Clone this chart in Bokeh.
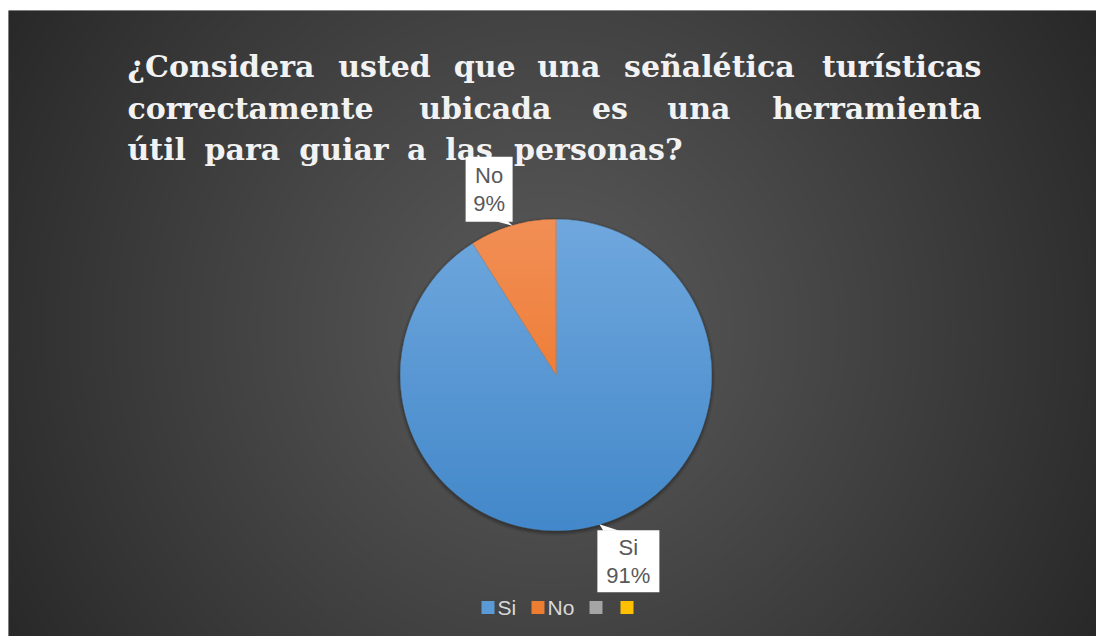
import numpy as np
from bokeh.plotting import figure
from bokeh.models import Range1d
from bokeh.core.properties import value
from bokeh.embed import file_html
from bokeh.resources import INLINE

# ---------------- data ----------------
categories = ["Si", "No"]
percentages = [91, 9]
pct_labels = ["91%", "9%"]
legend_labels = ["Si", "No", "", ""]
title_lines = [
    "¿Considera usted que una señalética turísticas",
    "correctamente ubicada es una herramienta",
    "útil para guiar a las personas?",
]

# ---------------- styles ----------------
slice_colors = ["#5b9bd5", "#ed7d31"]
slice_top = [(112, 168, 222), (242, 143, 86)]
slice_bot = [(67, 136, 202), (236, 111, 28)]
legend_colors = ["#5b9bd5", "#ed7d31", "#a5a5a5", "#ffc000"]

W, H = 1088, 626
p = figure(width=W, height=H, x_range=Range1d(0, W), y_range=Range1d(0, H),
           output_backend="svg", toolbar_location=None, min_border=0,
           x_axis_location=None, y_axis_location=None)
p.margin = (10, 0, 0, 8)
p.xgrid.visible = False
p.ygrid.visible = False
p.outline_line_color = None
p.background_fill_color = "#3a3a3a"
p.border_fill_color = "#3a3a3a"

# ---------------- background radial gradient ----------------
nx, ny = 544, 313
xs = (np.arange(nx) + 0.5) * W / nx
ys = (np.arange(ny) + 0.5) * H / ny
X, Y = np.meshgrid(xs, ys)
bcx, bcy = 540.0, 308.0
d = np.hypot(X - bcx, Y - bcy) / np.hypot(545, 320)
v = np.clip(90 - 50 * np.clip(d, 0, 1) ** 1.1, 0, 255).astype(np.uint8)
bg = np.empty((ny, nx), dtype=np.uint32)
bv = bg.view(dtype=np.uint8).reshape((ny, nx, 4))
bv[:, :, 0] = v
bv[:, :, 1] = v
bv[:, :, 2] = v
bv[:, :, 3] = 255
p.image_rgba(image=[bg], x=0, y=0, dw=W, dh=H)

# ---------------- pie ----------------
cx, cy, R = 547.5, 261.5, 155.5
vals = np.array(percentages, dtype=float)
frac = vals / vals.sum()
cum0 = np.concatenate([[0.0], np.cumsum(frac)[:-1]])
cum1 = np.cumsum(frac)
start = np.pi / 2 - cum0 * 2 * np.pi
end = np.pi / 2 - cum1 * 2 * np.pi

# soft shadow
for k, a in [(4, 0.05), (3, 0.06), (2, 0.08), (1, 0.10)]:
    p.circle(x=cx, y=cy - 1.5, radius=R + k, fill_color="black", fill_alpha=a, line_color=None)

p.wedge(x=cx, y=cy, radius=R, start_angle=list(start), end_angle=list(end),
        direction="clock", fill_color=slice_colors, line_color=None)

# gradient rendering of the slices (same geometry from the data)
N = 624
g = (np.arange(N) + 0.5) / N * 2 * R - R
GX, GY = np.meshgrid(g, g)
dist = np.hypot(GX, GY)
theta = np.arctan2(GY, GX)
phi = np.mod(np.pi / 2 - theta, 2 * np.pi) / (2 * np.pi)
idx = np.clip(np.searchsorted(cum1, phi), 0, len(frac) - 1)
t = (GY + R) / (2 * R)
top = np.array(slice_top, dtype=float)[idx]
bot = np.array(slice_bot, dtype=float)[idx]
col = bot + (top - bot) * t[:, :, None]
alpha = np.clip((R - dist) * (N / (2 * R)) + 0.5, 0, 1) * 255
pie_img = np.empty((N, N), dtype=np.uint32)
pv = pie_img.view(dtype=np.uint8).reshape((N, N, 4))
pv[:, :, 0] = col[:, :, 0].astype(np.uint8)
pv[:, :, 1] = col[:, :, 1].astype(np.uint8)
pv[:, :, 2] = col[:, :, 2].astype(np.uint8)
pv[:, :, 3] = alpha.astype(np.uint8)
p.image_rgba(image=[pie_img], x=cx - R, y=cy - R, dw=2 * R, dh=2 * R)

# slice separators
p.segment(x0=[cx] * len(start), y0=[cy] * len(start),
          x1=list(cx + R * np.cos(start)), y1=list(cy + R * np.sin(start)),
          line_color="#7a7a7a", line_width=0.7, line_alpha=0.7)

# ---------------- data label callouts ----------------
mid = np.pi / 2 - (cum0 + frac / 2) * 2 * np.pi
tipx = cx + R * np.cos(mid)
tipy = cy + R * np.sin(mid)
# per-label box layout relative to its tip: (left, right, bottom, top, ptr_a, ptr_b, ptr_y)
box_layout = [
    (-2, 60, -68, -6, 4, 20, -6.5),    # Si
    (-47, 0, 4, 69, -17, -5, 4.5),     # No
]

# ---------------- title (lines spread word by word like the original) ----------------
FS = 30
cw = {"a": .675, "b": .71, "c": .62, "d": .71, "e": .67, "f": .44, "g": .71, "h": .71,
      "i": .38, "l": .38, "m": 1.06, "n": .71, "o": .69, "p": .71, "q": .71, "r": .53,
      "s": .59, "t": .48, "u": .71, "ñ": .71, "é": .67, "í": .38, "ú": .71, "C": .78,
      "¿": .54, "?": .54}
tfont = dict(text_font=value("DejaVu Serif"), text_font_style="bold",
             text_font_size=f"{FS}px", text_color="#f2f2f2", text_baseline="alphabetic")
line_y = [570, 528, 487]
line_ext = [(119, 973), (119, 973), (119, 674)]
for li, line in enumerate(title_lines):
    words = line.split()
    n = len(words)
    ww = [sum(cw.get(ch, .65) for ch in w) * FS for w in words]
    x_l, x_r = line_ext[li]
    gap = (x_r - x_l - sum(ww)) / (n - 1)
    pos = x_l
    for j, w in enumerate(words):
        if j == 0:
            p.text(x=[x_l], y=[line_y[li]], text=[w], text_align="left", **tfont)
        elif j == n - 1:
            p.text(x=[x_r], y=[line_y[li]], text=[w], text_align="right", **tfont)
        else:
            p.text(x=[pos + ww[j] / 2], y=[line_y[li]], text=[w], text_align="center", **tfont)
        pos += ww[j] + gap

# callout boxes (drawn above the title, as in the original)
for i, (l, r, b, tp, pa, pb, pyy) in enumerate(box_layout):
    x0, y0 = tipx[i], tipy[i]
    p.patch(x=[x0 + l, x0 + r, x0 + r, x0 + l], y=[y0 + b, y0 + b, y0 + tp, y0 + tp],
            fill_color="white", line_color=None)
    p.patch(x=[x0 + pa, x0 + pb, x0], y=[y0 + pyy, y0 + pyy, y0],
            fill_color="white", line_color=None)
    bx = x0 + (l + r) / 2
    by = y0 + (b + tp) / 2
    p.text(x=[bx, bx], y=[by + 13.5, by - 14], text=[categories[i], pct_labels[i]],
           text_align="center", text_baseline="middle",
           text_font=value("Liberation Sans"), text_font_size="22px", text_color="#595959")

# ---------------- legend ----------------
sq_left = [473, 523, 581, 612]
sq = 13
ly = 29
p.rect(x=[s + sq / 2 for s in sq_left], y=[ly] * 4, width=sq, height=sq,
       fill_color=legend_colors, line_color=None)
lab_x = [s + sq + 3 for s in sq_left]
p.text(x=lab_x, y=[ly] * 4, text=legend_labels, text_align="left", text_baseline="middle",
       text_font=value("Liberation Sans"), text_font_size="21px", text_color="#d9d9d9")

open("out.html", "w").write(file_html(p, INLINE))
